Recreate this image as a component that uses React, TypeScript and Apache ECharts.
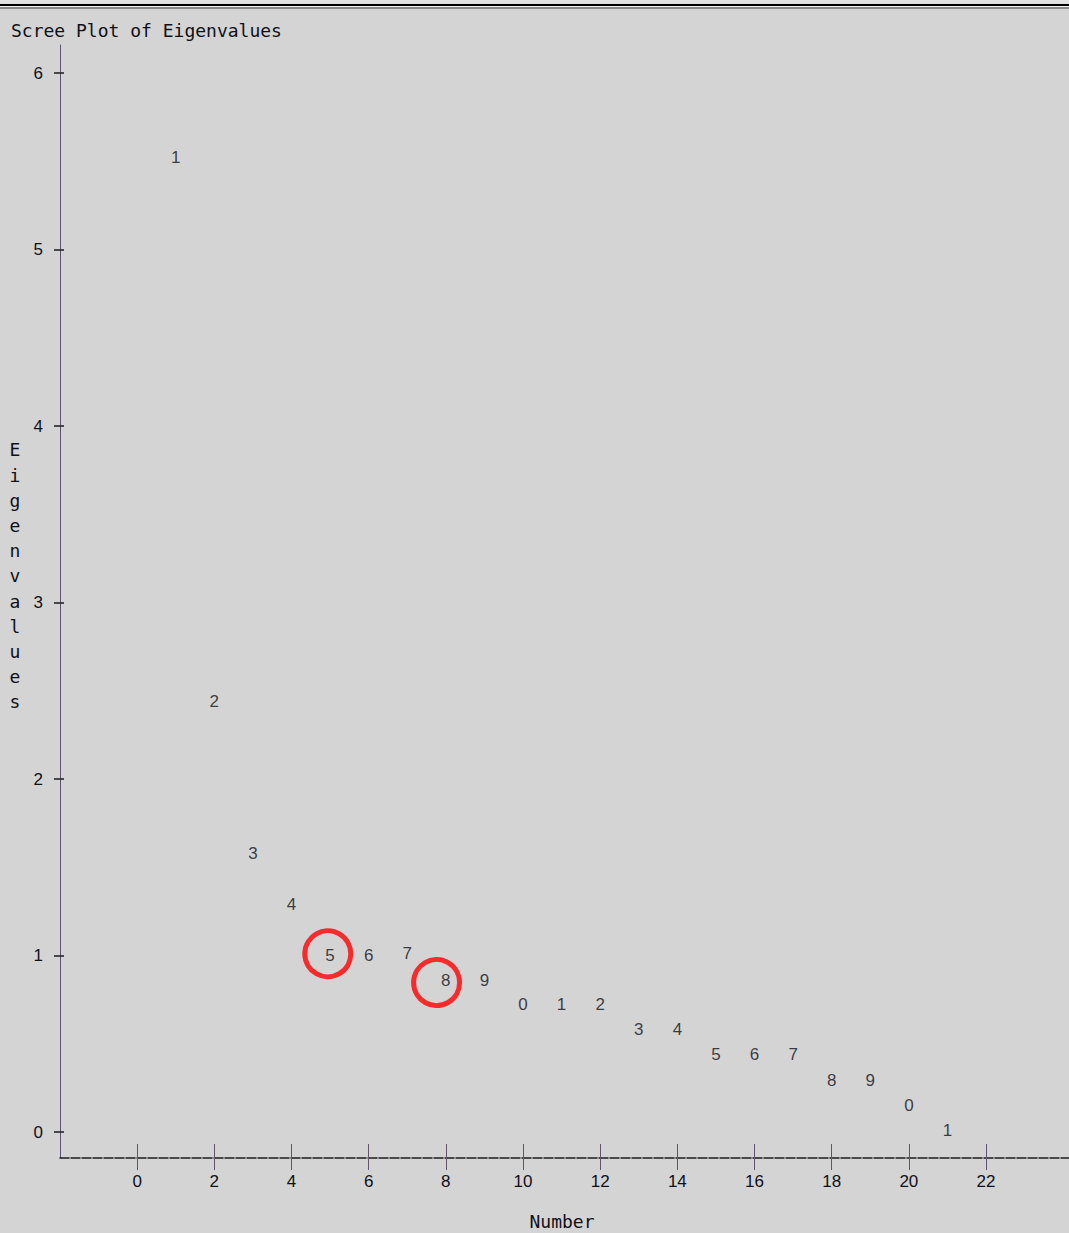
import React, { useEffect, useRef } from "react";
import * as echarts from "echarts";

// Eigenvalue number (x) and eigenvalue (y)
const numbers = [1, 2, 3, 4, 5, 6, 7, 8, 9, 10, 11, 12, 13, 14, 15, 16, 17, 18, 19, 20, 21];
const eigenvalues = [5.52, 2.44, 1.58, 1.29, 1.0, 1.0, 1.01, 0.86, 0.86, 0.72, 0.72, 0.72, 0.58, 0.58, 0.44, 0.44, 0.44, 0.29, 0.29, 0.15, 0.01];

// Tick values
const xTicks = [0, 2, 4, 6, 8, 10, 12, 14, 16, 18, 20, 22];
const yTicks = [0, 1, 2, 3, 4, 5, 6];

// Red annotation circles (data coordinates)
const highlightX = [4.94, 7.76];
const highlightY = [1.01, 0.847];

const titleText = "Scree Plot of Eigenvalues";
const yAxisTitle = "Eigenvalues";
const xAxisTitle = "Number";

const MONO = "'DejaVu Sans Mono', monospace";
const SANS = "'Liberation Sans', Arial, sans-serif";
const AXIS_COLOR = "#5e5470";
const TEXT_COLOR = "#101018";

export default function App() {
  const ref = useRef<HTMLDivElement>(null);

  useEffect(() => {
    if (!ref.current) return;
    const chart = echarts.init(ref.current, undefined, { renderer: "svg" });

    const points = numbers.map((n, i) => [n, eigenvalues[i]]);
    const circles = highlightX.map((x, i) => [x, highlightY[i]]);

    const xMin = -2;
    const xMax = 24.15;
    const yMin = -0.147;
    const yMax = 6.159;

    chart.setOption({
      animation: false,
      backgroundColor: "#d4d4d4",
      grid: { left: 60, top: 45, width: 1009, height: 1113 },
      xAxis: [
        {
          type: "value",
          min: xMin,
          max: xMax,
          splitLine: { show: false },
          axisLine: {
            show: true,
            onZero: false,
            lineStyle: { color: "#1c1c1c", width: 1.5, type: [9, 2] },
          },
          axisTick: {
            show: true,
            inside: false,
            length: 12,
            customValues: xTicks,
            lineStyle: { color: AXIS_COLOR, width: 1 },
          },
          axisLabel: {
            show: true,
            customValues: xTicks,
            margin: 15,
            color: TEXT_COLOR,
            fontFamily: SANS,
            fontSize: 17,
          },
        },
        {
          type: "value",
          min: xMin,
          max: xMax,
          position: "bottom",
          splitLine: { show: false },
          axisLine: { show: false, onZero: false },
          axisTick: {
            show: true,
            inside: true,
            length: 14,
            customValues: xTicks,
            lineStyle: { color: AXIS_COLOR, width: 1 },
          },
          axisLabel: { show: false },
        },
      ],
      yAxis: [
        {
          type: "value",
          min: yMin,
          max: yMax,
          splitLine: { show: false },
          axisLine: { show: true, onZero: false, lineStyle: { color: AXIS_COLOR, width: 1 } },
          axisTick: {
            show: true,
            inside: false,
            length: 6,
            customValues: yTicks,
            lineStyle: { color: "#1c1c1c", width: 1.5 },
          },
          axisLabel: {
            show: true,
            customValues: yTicks,
            margin: 17,
            color: TEXT_COLOR,
            fontFamily: SANS,
            fontSize: 17,
          },
        },
        {
          type: "value",
          min: yMin,
          max: yMax,
          position: "left",
          splitLine: { show: false },
          axisLine: { show: false, onZero: false },
          axisTick: {
            show: true,
            inside: true,
            length: 4,
            customValues: yTicks,
            lineStyle: { color: "#1c1c1c", width: 1.5 },
          },
          axisLabel: { show: false },
        },
      ],
      series: [
        {
          type: "scatter",
          xAxisIndex: 0,
          yAxisIndex: 0,
          data: points,
          symbol: "circle",
          symbolSize: 1,
          itemStyle: { color: "rgba(0,0,0,0)" },
          label: {
            show: true,
            position: "inside",
            formatter: (p: any) => String(p.value[0] % 10),
            color: TEXT_COLOR,
            fontFamily: SANS,
            fontSize: 17,
          },
          z: 3,
        },
        {
          type: "scatter",
          xAxisIndex: 0,
          yAxisIndex: 0,
          data: circles,
          symbol: "circle",
          symbolSize: 46,
          itemStyle: {
            color: "rgba(0,0,0,0)",
            borderColor: "#ff0000",
            borderWidth: 5,
          },
          z: 4,
        },
      ],
      graphic: [
        { type: "rect", shape: { x: 0, y: 0, width: 1069, height: 4 }, style: { fill: "#e2e2e2" } },
        { type: "rect", shape: { x: 0, y: 4, width: 1069, height: 2 }, style: { fill: "#000000" } },
        { type: "rect", shape: { x: 0, y: 6, width: 1069, height: 1 }, style: { fill: "#f2f2f2" } },
        { type: "rect", shape: { x: 0, y: 7, width: 1069, height: 2 }, style: { fill: "#8a8a8a" } },
        {
          type: "text",
          left: 11,
          top: 21,
          style: { text: titleText, font: `18px ${MONO}`, fill: TEXT_COLOR },
        },
        {
          type: "text",
          x: 15,
          y: 437.4,
          style: {
            text: yAxisTitle.split("").join("\n"),
            font: `18px ${MONO}`,
            fill: TEXT_COLOR,
            align: "center",
            verticalAlign: "top",
            lineHeight: 25.2,
          },
        },
        {
          type: "text",
          x: 562,
          y: 1212,
          style: {
            text: xAxisTitle,
            font: `18px ${MONO}`,
            fill: TEXT_COLOR,
            align: "center",
            verticalAlign: "top",
          },
        },
      ],
    });

    return () => chart.dispose();
  }, []);

  return (
    <div
      ref={ref}
      style={{ position: "fixed", left: 0, top: 0, width: 1069, height: 1233 }}
    />
  );
}
